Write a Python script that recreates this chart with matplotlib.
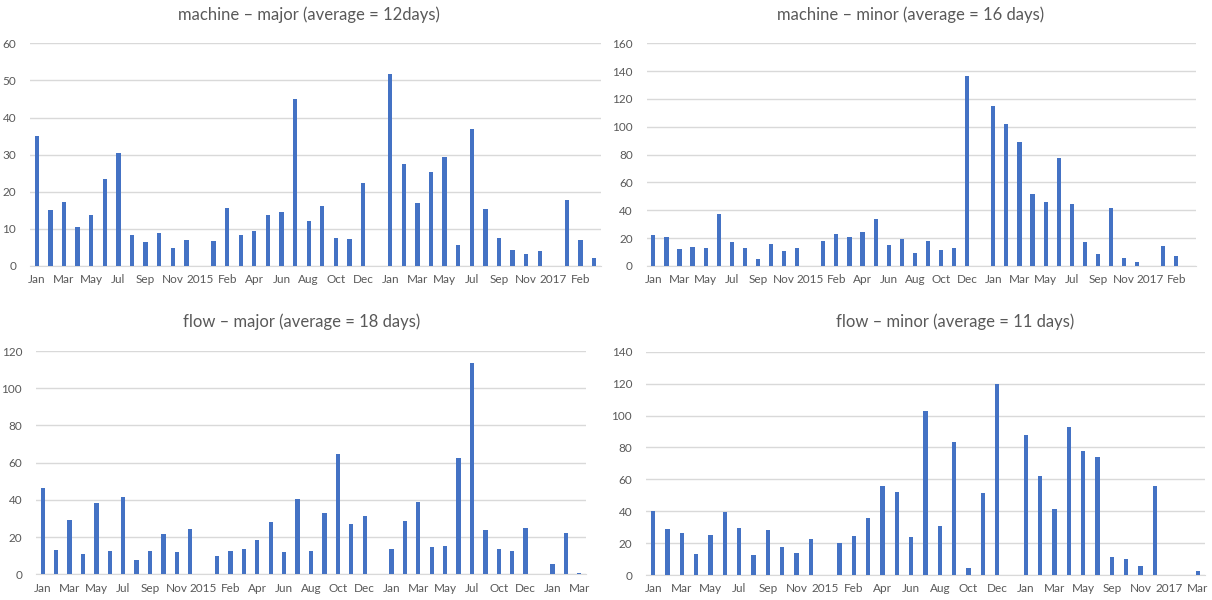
import numpy as np
import matplotlib
matplotlib.use("Agg")
import matplotlib.pyplot as plt

plt.rcParams['font.family'] = ['Lato', 'DejaVu Sans']

nan = np.nan

# machine - major (42 monthly slots)
machine_major = [35.0, 15.0, 17.2, 10.6, 13.7, 23.5, 30.5, 8.4, 6.6, 8.9, 4.8, 7.1,
                 nan, 6.8, 15.5, 8.3, 9.5, 13.7, 14.5, 45.1, 12.0, 16.1, 7.5, 7.4,
                 22.4, nan, 51.8, 27.6, 16.9, 25.4, 29.5, 5.6, 36.8, 15.4, 7.5, 4.4,
                 3.1, 4.0, nan, 17.7, 7.0, 2.1]
machine_major_labels = ["Jan", "Mar", "May", "Jul", "Sep", "Nov", "2015", "Feb", "Apr",
                        "Jun", "Aug", "Oct", "Dec", "Jan", "Mar", "May", "Jul", "Sep",
                        "Nov", "2017", "Feb"]

# machine - minor (42 slots)
machine_minor = [22.0, 20.8, 12.2, 13.7, 13.2, 37.6, 17.0, 13.2, 5.0, 16.0, 10.5, 12.7,
                 nan, 18.0, 22.8, 20.8, 24.7, 33.5, 15.1, 19.4, 9.3, 18.2, 11.5, 12.7,
                 136.3, nan, 115.0, 101.8, 89.1, 52.0, 46.2, 77.8, 44.3, 17.0, 8.9, 41.7,
                 6.0, 2.6, nan, 14.1, 6.9, nan]
machine_minor_labels = machine_major_labels

# flow - major (41 slots)
flow_major = [46.4, 13.1, 29.0, 11.1, 38.2, 12.7, 41.6, 7.7, 12.7, 21.5, 12.0, 24.4,
              nan, 9.7, 12.4, 13.4, 18.3, 27.9, 12.0, 40.5, 12.7, 32.8, 64.7, 27.2,
              31.2, nan, 13.8, 28.7, 39.0, 14.7, 15.2, 62.3, 113.6, 23.6, 13.8, 12.4,
              24.9, nan, 5.7, 22.4, 0.7]
flow_major_labels = ["Jan", "Mar", "May", "Jul", "Sep", "Nov", "2015", "Feb", "Apr",
                     "Jun", "Aug", "Oct", "Dec", "Jan", "Mar", "May", "Jul", "Oct",
                     "Dec", "Jan", "Mar"]

# flow - minor (39 slots)
flow_minor = [40.3, 28.8, 26.1, 13.2, 25.3, 39.3, 29.3, 12.3, 28.4, 17.8, 14.0, 22.4,
              nan, 20.1, 24.7, 35.5, 56.0, 52.0, 23.6, 102.8, 30.9, 83.2, 4.6, 51.2,
              119.9, nan, 87.5, 62.3, 41.6, 93.0, 77.5, 73.8, 11.1, 10.2, 5.6, 55.8,
              nan, nan, 2.5]
flow_minor_labels = ["Jan", "Mar", "May", "Jul", "Sep", "Nov", "2015", "Feb", "Apr",
                     "Jun", "Aug", "Oct", "Dec", "Jan", "Mar", "May", "Sep", "Nov",
                     "2017", "Mar"]

W, H = 1212, 600
fig = plt.figure(figsize=(W / 100, H / 100), dpi=100)
fig.patch.set_facecolor("white")

grey = "#595959"
bar_color = "#4472C4"


def panel(px, title, values, labels, ymax, ystep, tx, ty):
    # px = (left, right, bottom_y, top_y) in pixels from top-left
    left, right, y0, y1 = px
    ax = fig.add_axes([left / W, 1 - y0 / H, (right - left) / W, (y0 - y1) / H])
    x = np.arange(len(values))
    ax.bar(x, values, width=0.32, color=bar_color, zorder=3)
    ax.set_xlim(-0.5, len(values) - 0.5)
    ax.set_ylim(0, ymax)
    ax.set_yticks(np.arange(0, ymax + 1, ystep))
    ax.set_xticks(np.arange(len(labels)) * 2)
    ax.set_xticklabels(labels)
    ax.tick_params(axis="both", length=0, labelsize=8.5, colors=grey)
    ax.tick_params(axis="y", pad=10)
    ax.tick_params(axis="x", pad=6)
    ax.yaxis.grid(True, color="#d9d9d9", linewidth=1, zorder=0)
    for s in ["top", "right", "left"]:
        ax.spines[s].set_visible(False)
    ax.spines["bottom"].set_color("#d9d9d9")
    fig.text(tx / W, 1 - ty / H, title, ha="center", va="center",
             fontsize=12, color=grey)
    return ax


panel((30, 601, 266, 43.3), "machine \u2013 major (average = 12days)",
      machine_major, machine_major_labels, 60, 10, 309, 15)
panel((646.8, 1196, 266, 43.3), "machine \u2013 minor (average = 16 days)",
      machine_minor, machine_minor_labels, 160, 20, 911, 15)
panel((36, 586, 574.3, 351), "flow \u2013 major (average = 18 days)",
      flow_major, flow_major_labels, 120, 20, 302, 322)
panel((646, 1205, 575, 351.7), "flow \u2013 minor (average = 11 days)",
      flow_minor, flow_minor_labels, 140, 20, 955, 322)

fig.savefig("out.png", dpi=100)
